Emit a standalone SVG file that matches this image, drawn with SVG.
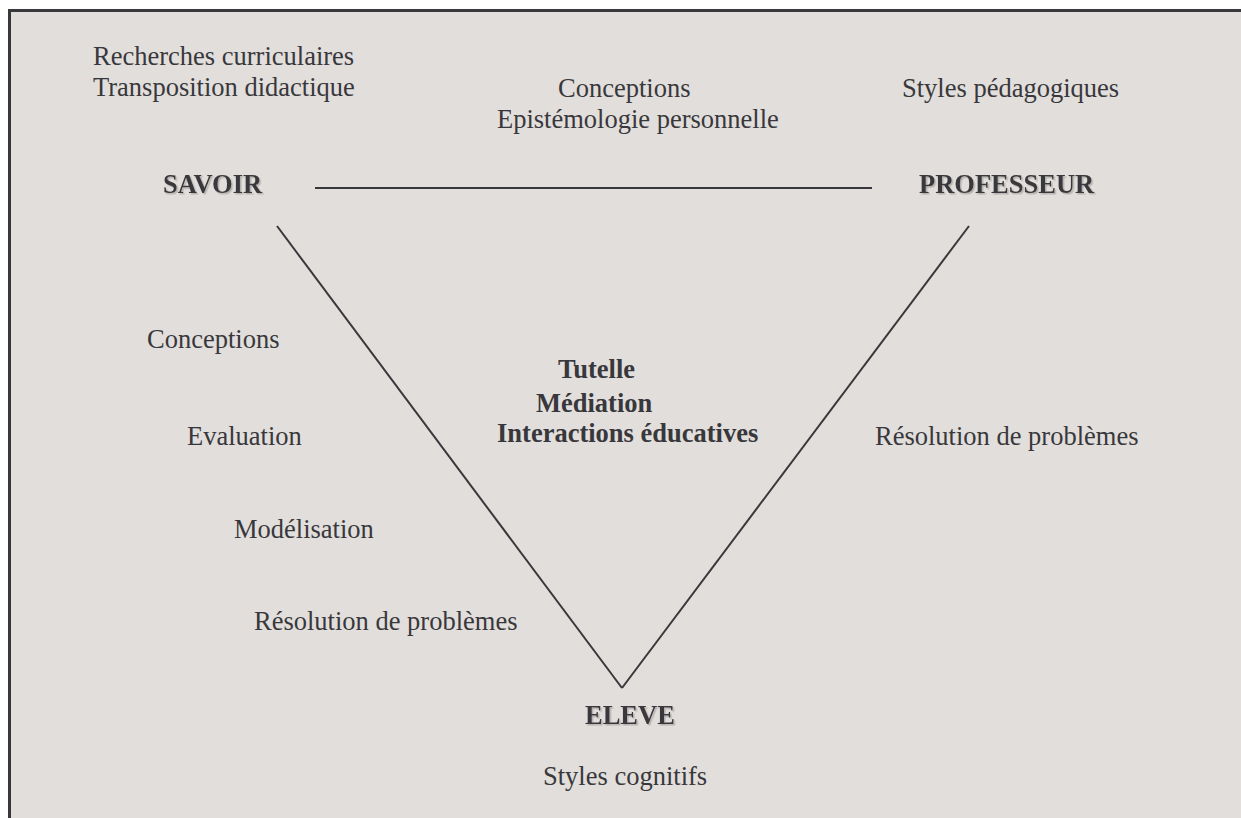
<svg xmlns="http://www.w3.org/2000/svg" width="1241" height="818" viewBox="0 0 1241 818">
<defs>
<style>
.bg{fill:#e2dedb}
.frame{fill:none;stroke:#38383c;stroke-width:3}
.t{font-family:"Liberation Serif","Times New Roman",serif;font-size:26.5px;fill:#38383c}
.b{font-family:"Liberation Serif","Times New Roman",serif;font-size:26.5px;font-weight:bold;fill:#38383c}
.n{font-filter:none}
.edge{stroke:#38383c;stroke-width:2;fill:none}
</style>
<filter id="sh" x="-10%" y="-20%" width="120%" height="140%">
<feDropShadow dx="1.5" dy="1.5" stdDeviation="0.6" flood-color="#a8a4a2" flood-opacity="0.8"/>
</filter>
</defs>
<rect class="bg" x="10" y="11" width="1231" height="807"/>
<path class="frame" d="M9.5,818 V10.5 H1241"/>
<g id="connectors">
<line class="edge" x1="315" y1="188" x2="872" y2="188"/>
<line class="edge" x1="277" y1="226" x2="622" y2="688"/>
<line class="edge" x1="969" y1="226" x2="622" y2="688"/>
</g>
<g id="savoir">
<text class="b" x="163" y="193" filter="url(#sh)">SAVOIR</text>
</g>
<g id="professeur">
<text class="b" x="919" y="193" filter="url(#sh)">PROFESSEUR</text>
</g>
<g id="eleve">
<text class="b" x="585" y="724" filter="url(#sh)">ELEVE</text>
</g>
<g id="label-savoir">
<text class="t" x="93" y="65">Recherches curriculaires</text>
<text class="t" x="93" y="96">Transposition didactique</text>
</g>
<g id="label-savoir-professeur">
<text class="t" x="558" y="97">Conceptions</text>
<text class="t" x="497" y="128">Epistémologie personnelle</text>
</g>
<g id="label-professeur">
<text class="t" x="902" y="97">Styles pédagogiques</text>
</g>
<g id="label-savoir-eleve">
<text class="t" x="147" y="348">Conceptions</text>
<text class="t" x="187" y="445">Evaluation</text>
<text class="t" x="234" y="538">Modélisation</text>
<text class="t" x="254" y="630">Résolution de problèmes</text>
</g>
<g id="label-center">
<text class="b" x="558" y="378">Tutelle</text>
<text class="b" x="536" y="412">Médiation</text>
<text class="b" x="497" y="442">Interactions éducatives</text>
</g>
<g id="label-professeur-eleve">
<text class="t" x="875" y="445">Résolution de problèmes</text>
</g>
<g id="label-eleve">
<text class="t" x="543" y="785">Styles cognitifs</text>
</g>
</svg>
